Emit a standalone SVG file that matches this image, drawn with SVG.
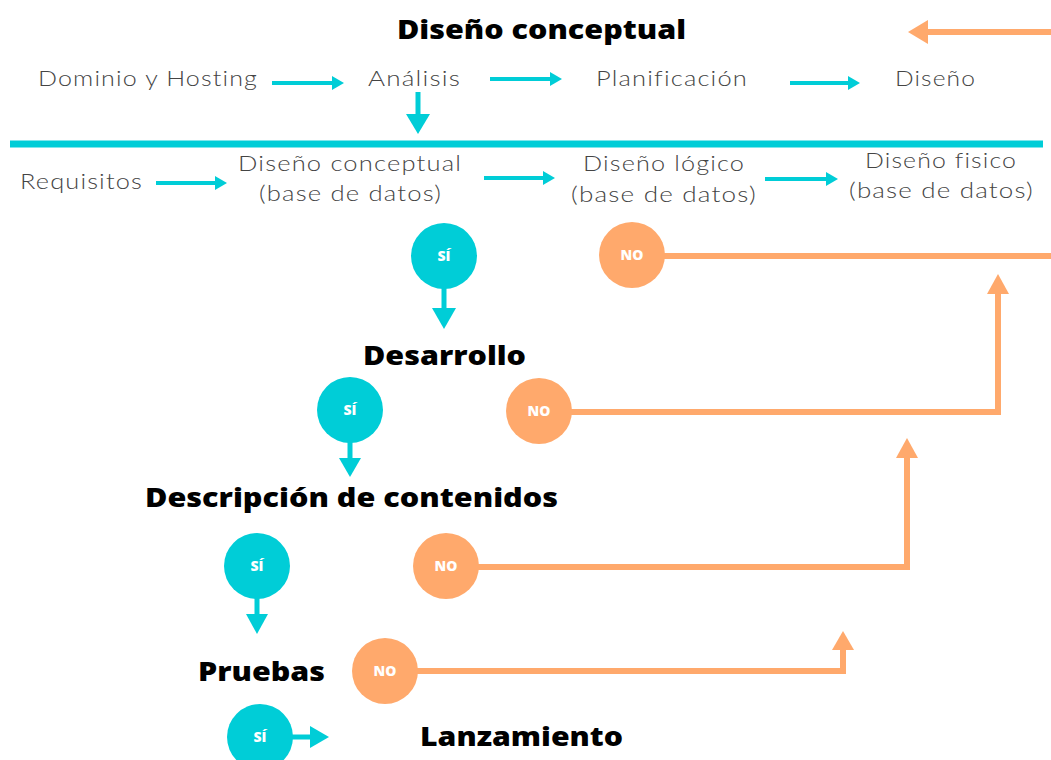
<svg xmlns="http://www.w3.org/2000/svg" width="1051" height="760" viewBox="0 0 1051 760">
<style>
.t{font-family:"Open Sans","Liberation Sans",sans-serif;font-weight:800;fill:#000;font-size:27px}
.l{font-family:Lato,"Liberation Sans",sans-serif;font-weight:300;fill:#444;font-size:22px;letter-spacing:1px}
.c{font-family:"Open Sans","Liberation Sans",sans-serif;font-weight:800;fill:#fff;font-size:14px;text-anchor:middle}
.cy{fill:#00CDD7}
.or{fill:#FFA96C}
.cs{stroke:#00CDD7;fill:none}
.os{stroke:#FFA96C;fill:none;stroke-width:6}
</style>
<rect width="1051" height="760" fill="#fff"/>
<g id="connectors">
<line class="os" x1="1051" y1="32" x2="925" y2="32"/>
<polygon class="or" points="908,32 928,20 928,44"/>
<line class="cs" stroke-width="4" x1="272" y1="83" x2="333" y2="83"/>
<polygon class="cy" points="344,83 332,76 332,90"/>
<line class="cs" stroke-width="4" x1="490" y1="79" x2="551" y2="79"/>
<polygon class="cy" points="562,79 550,72 550,86"/>
<line class="cs" stroke-width="4" x1="790" y1="83" x2="849" y2="83"/>
<polygon class="cy" points="860,83 848,76 848,90"/>
<line class="cs" stroke-width="5" x1="418" y1="92" x2="418" y2="116"/>
<polygon class="cy" points="418,134 406,114 430,114"/>
<line class="cs" stroke-width="7" x1="10" y1="144" x2="1043" y2="144"/>
<line class="cs" stroke-width="4" x1="156" y1="183" x2="216" y2="183"/>
<polygon class="cy" points="227,183 215,176 215,190"/>
<line class="cs" stroke-width="4" x1="484" y1="178" x2="544" y2="178"/>
<polygon class="cy" points="555,178 543,171 543,185"/>
<line class="cs" stroke-width="4" x1="765" y1="179" x2="827" y2="179"/>
<polygon class="cy" points="838,179 826,172 826,186"/>
<line class="cs" stroke-width="5" x1="444" y1="288" x2="444" y2="310"/>
<polygon class="cy" points="444,329 432,308 456,308"/>
<line class="cs" stroke-width="5" x1="350" y1="442" x2="350" y2="460"/>
<polygon class="cy" points="350,477 339,458 361,458"/>
<line class="cs" stroke-width="5" x1="257" y1="598" x2="257" y2="616"/>
<polygon class="cy" points="257,634 246,614 268,614"/>
<line class="cs" stroke-width="5" x1="290" y1="737" x2="312" y2="737"/>
<polygon class="cy" points="329,737 310,726 310,748"/>
<line class="os" x1="663" y1="256" x2="1051" y2="256"/>
<polyline class="os" points="570,412 998,412 998,292"/>
<polygon class="or" points="998,274 987,294 1009,294"/>
<polyline class="os" points="477,567 907,567 907,456"/>
<polygon class="or" points="907,438 896,458 918,458"/>
<polyline class="os" points="416,671 843,671 843,648"/>
<polygon class="or" points="843,631 832,650 854,650"/>
</g>
<g id="title"><text class="t" x="397" y="39" font-size="29" textLength="289" lengthAdjust="spacingAndGlyphs">Diseño conceptual</text></g>
<g id="dominio"><text class="l" x="38" y="86" textLength="220" lengthAdjust="spacingAndGlyphs">Dominio y Hosting</text></g>
<g id="analisis"><text class="l" x="368" y="86" textLength="93" lengthAdjust="spacingAndGlyphs">Análisis</text></g>
<g id="planificacion"><text class="l" x="596" y="86" textLength="152" lengthAdjust="spacingAndGlyphs">Planificación</text></g>
<g id="diseno"><text class="l" x="895" y="86" textLength="81" lengthAdjust="spacingAndGlyphs">Diseño</text></g>
<g id="requisitos"><text class="l" x="20" y="189" textLength="123" lengthAdjust="spacingAndGlyphs">Requisitos</text></g>
<g id="conceptual-bd"><text class="l" x="238" y="171" textLength="224" lengthAdjust="spacingAndGlyphs">Diseño conceptual</text><text class="l" x="259" y="201" textLength="183" lengthAdjust="spacingAndGlyphs">(base de datos)</text></g>
<g id="logico-bd"><text class="l" x="583" y="171" textLength="162" lengthAdjust="spacingAndGlyphs">Diseño lógico</text><text class="l" x="571" y="202" textLength="186" lengthAdjust="spacingAndGlyphs">(base de datos)</text></g>
<g id="fisico-bd"><text class="l" x="865" y="168" textLength="152" lengthAdjust="spacingAndGlyphs">Diseño fisico</text><text class="l" x="849" y="198" textLength="185" lengthAdjust="spacingAndGlyphs">(base de datos)</text></g>
<g id="si1"><ellipse class="cy" cx="444" cy="256" rx="33" ry="33"/><text class="c" x="444" y="261">SÍ</text></g>
<g id="no1"><ellipse class="or" cx="632" cy="255" rx="33" ry="33"/><text class="c" x="632" y="260">NO</text></g>
<g id="desarrollo"><text class="t" x="363" y="365" textLength="163" lengthAdjust="spacingAndGlyphs">Desarrollo</text></g>
<g id="si2"><ellipse class="cy" cx="350" cy="410" rx="33" ry="33"/><text class="c" x="350" y="415">SÍ</text></g>
<g id="no2"><ellipse class="or" cx="539" cy="411" rx="33" ry="33"/><text class="c" x="539" y="416">NO</text></g>
<g id="descripcion"><text class="t" x="145" y="507" textLength="413" lengthAdjust="spacingAndGlyphs">Descripción de contenidos</text></g>
<g id="si3"><ellipse class="cy" cx="257" cy="566" rx="33" ry="33"/><text class="c" x="257" y="571">SÍ</text></g>
<g id="no3"><ellipse class="or" cx="446" cy="566" rx="33" ry="33"/><text class="c" x="446" y="571">NO</text></g>
<g id="pruebas"><text class="t" x="198" y="681" textLength="127" lengthAdjust="spacingAndGlyphs">Pruebas</text></g>
<g id="no4"><ellipse class="or" cx="385" cy="671" rx="33" ry="33"/><text class="c" x="385" y="676">NO</text></g>
<g id="si4"><ellipse class="cy" cx="260" cy="737" rx="33" ry="33"/><text class="c" x="260" y="742">SÍ</text></g>
<g id="lanzamiento"><text class="t" x="420" y="746" textLength="203" lengthAdjust="spacingAndGlyphs">Lanzamiento</text></g>
</svg>
